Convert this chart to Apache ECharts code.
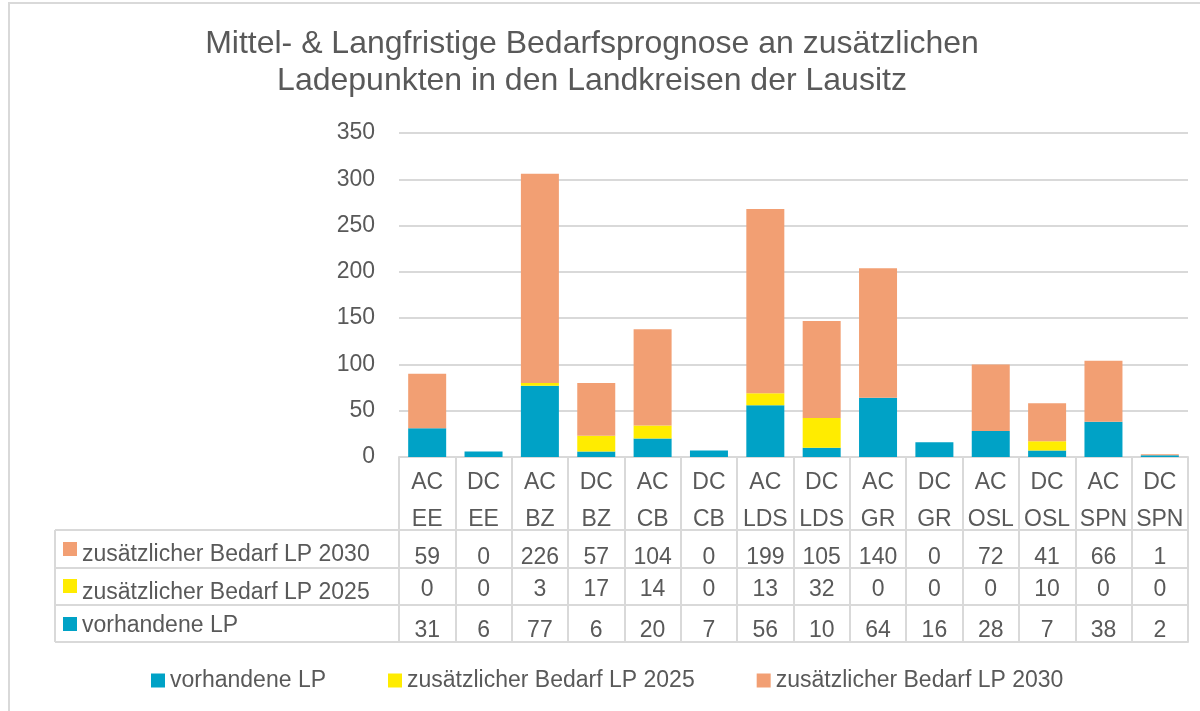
<!DOCTYPE html>
<html><head><meta charset="utf-8">
<script src="https://cdn.jsdelivr.net/npm/echarts@6/dist/echarts.min.js"></script>
<style>html,body{margin:0;padding:0;background:#fff}#c{width:1200px;height:711px}</style>
</head><body><div id="c"></div>
<script>
const titleLines = ['Mittel- & Langfristige Bedarfsprognose an zusätzlichen', 'Ladepunkten in den Landkreisen der Lausitz'];
const categories = ['AC EE','DC EE','AC BZ','DC BZ','AC CB','DC CB','AC LDS','DC LDS','AC GR','DC GR','AC OSL','DC OSL','AC SPN','DC SPN'];
const seriesNames = ['vorhandene LP','zusätzlicher Bedarf LP 2025','zusätzlicher Bedarf LP 2030'];
const vorhandeneLP = [31,6,77,6,20,7,56,10,64,16,28,7,38,2];
const bedarf2025 = [0,0,3,17,14,0,13,32,0,0,0,10,0,0];
const bedarf2030 = [59,0,226,57,104,0,199,105,140,0,72,41,66,1];
const yMin = 0, yMax = 350, yStep = 50;
const colors = ['#00a2c6','#ffec00','#f29f73'];

const FONT = "'Liberation Sans', Arial, sans-serif";
const TXT = '#595959';
const LINE = '#d9d9d9';

const chart = echarts.init(document.getElementById('c'), null, {renderer:'canvas'});

// table rows (top to bottom) -> data arrays
const tableRows = [
  {name: seriesNames[2], data: bedarf2030, color: colors[2]},
  {name: seriesNames[1], data: bedarf2025, color: colors[1]},
  {name: seriesNames[0], data: vorhandeneLP, color: colors[0]}
];
const rowTop = [530, 568, 605];
const rowMargin = [15, 9, 13];
const rowBottom = 642;
const headerH = 73;

function tableAxis(idx) {
  const isLast = idx === 3;
  return {
    type: 'category', data: categories, gridIndex: 0, position: 'bottom',
    offset: idx === 3 ? rowBottom - 457 : rowTop[idx] - 457,
    axisLine: {show: true, lineStyle: {color: LINE, width: 2}},
    axisTick: {show: !isLast, interval: 0, length: isLast ? 0 : (idx < 2 ? rowTop[idx+1] - rowTop[idx] : rowBottom - rowTop[idx]), lineStyle: {color: LINE, width: 2}},
    axisLabel: isLast ? {show: false} : {
      show: true, interval: 0, margin: rowMargin[idx], fontSize: 23, fontFamily: FONT, color: TXT, lineHeight: 26,
      formatter: (v, i) => String(tableRows[idx].data[i])
    },
    splitLine: {show: false}
  };
}

const graphics = [
  {type: 'rect', shape: {x: 9, y: 3, width: 1220, height: 740}, style: {fill: 'none', stroke: LINE, lineWidth: 2}, silent: true, z: -10},
  {type: 'text', style: {text: titleLines.join('\n'), x: 592, y: 26, textAlign: 'center', textVerticalAlign: 'top', font: '32px ' + FONT, fill: TXT, lineHeight: 37}}
];
// left part of data table
[530, 568, 605, 642].forEach(y => graphics.push({type: 'line', shape: {x1: 55, y1: y, x2: 399, y2: y}, style: {stroke: LINE, lineWidth: 2}, silent: true}));
graphics.push({type: 'line', shape: {x1: 55, y1: 530, x2: 55, y2: 642}, style: {stroke: LINE, lineWidth: 2}, silent: true});
const labelCenters = [555, 593, 626];
const squareTops = [542, 579, 617];
tableRows.forEach((r, k) => {
  graphics.push({type: 'rect', shape: {x: 63, y: squareTops[k], width: 14, height: 14}, style: {fill: r.color}, silent: true});
  graphics.push({type: 'text', style: {text: r.name, x: 82, y: labelCenters[k], textVerticalAlign: 'middle', font: '23px ' + FONT, fill: TXT}, silent: true});
});

const option = {
  animation: false,
  backgroundColor: '#fff',
  textStyle: {fontFamily: FONT},
  grid: {left: 399, right: 12, top: 133, bottom: 254, containLabel: false},
  legend: {
    data: seriesNames, left: 146, top: 664, orient: 'horizontal',
    itemWidth: 14, itemHeight: 14, itemGap: 62, icon: 'rect',
    textStyle: {fontSize: 23, color: TXT, fontFamily: FONT, padding: [0,0,0,0]}
  },
  xAxis: [
    {
      type: 'category', data: categories, gridIndex: 0, position: 'bottom',
      axisLine: {show: true, lineStyle: {color: LINE, width: 2}},
      axisTick: {show: true, interval: 0, length: headerH, lineStyle: {color: LINE, width: 2}},
      axisLabel: {interval: 0, margin: 7, fontSize: 23, fontFamily: FONT, color: TXT, lineHeight: 37,
        formatter: v => v.split(' ').join('\n')}
    },
    tableAxis(0), tableAxis(1), tableAxis(2), tableAxis(3)
  ],
  yAxis: {
    type: 'value', min: yMin, max: yMax, interval: yStep,
    axisLine: {show: false}, axisTick: {show: false},
    axisLabel: {fontSize: 23, fontFamily: FONT, color: TXT, margin: 24, padding: [4,0,0,0]},
    splitLine: {lineStyle: {color: LINE, width: 2}}
  },
  series: [
    {name: seriesNames[0], type: 'bar', stack: 'lp', data: vorhandeneLP, barWidth: 38, itemStyle: {color: colors[0]}},
    {name: seriesNames[1], type: 'bar', stack: 'lp', data: bedarf2025, barWidth: 38, itemStyle: {color: colors[1]}},
    {name: seriesNames[2], type: 'bar', stack: 'lp', data: bedarf2030, barWidth: 38, itemStyle: {color: colors[2]}}
  ],
  graphic: graphics
};
chart.setOption(option);
</script></body></html>
